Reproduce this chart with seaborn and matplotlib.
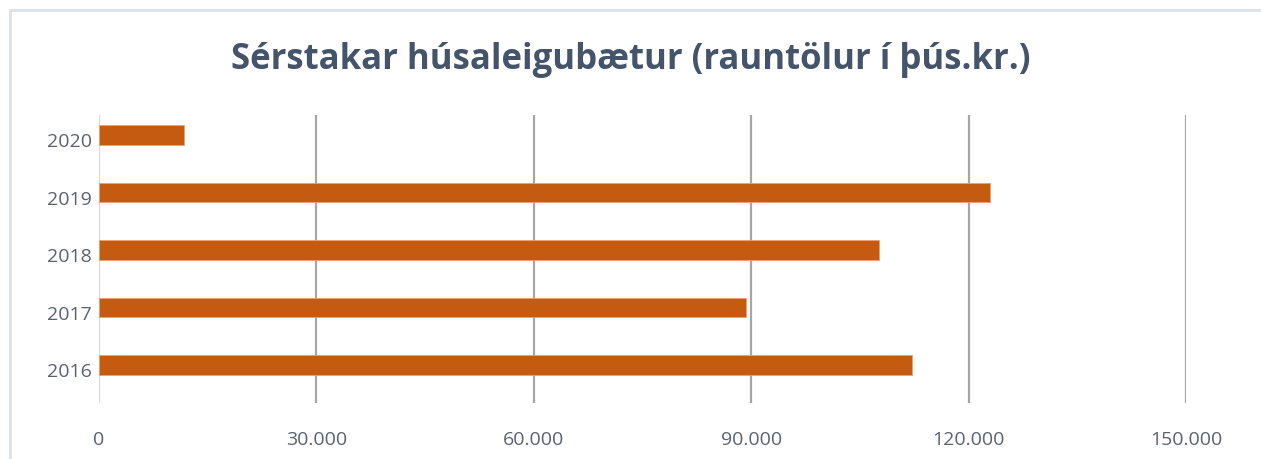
import matplotlib
matplotlib.use("Agg")
import matplotlib.pyplot as plt
import matplotlib.transforms as mtrans
import seaborn as sns
import pandas as pd

# values (thousand ISK)
years = ["2020", "2019", "2018", "2017", "2016"]
values = [11700, 123000, 107600, 89300, 112200]
xticks = [0, 30000, 60000, 90000, 120000, 150000]
xtick_labels = ["0", "30.000", "60.000", "90.000", "120.000", "150.000"]
title = "Sérstakar húsaleigubætur (rauntölur í þús.kr.)"

df = pd.DataFrame({"year": years, "value": values})

sns.set_style("white")
plt.rcParams["font.family"] = ["Open Sans", "DejaVu Sans"]

W, H = 1261, 459
fig = plt.figure(figsize=(W / 100, H / 100), dpi=100)

# outer chart border (right and bottom edges fall outside the crop)
fig.patches.append(plt.Rectangle((10 / W, -0.02), 1.0, 1.0 - 10 / H + 0.02,
                                 transform=fig.transFigure, fill=False,
                                 edgecolor="#dde2ea", linewidth=2))

ax = fig.add_axes([99 / W, (H - 403) / H, (1186 - 99) / W, (403 - 115) / H])

sns.barplot(data=df, x="value", y="year", order=years, orient="h",
            color="#c55a11", width=0.34, edgecolor="#f0a070", linewidth=0.6,
            saturation=1, ax=ax, zorder=3)

ax.set_xlim(0, 150000)
ax.set_ylim(4.66, -0.35)
ax.set_xticks(xticks)
ax.set_xticklabels(xtick_labels)
ax.set_xlabel("")
ax.set_ylabel("")

# gridlines: the zero line is lighter than the rest
for x in xticks[1:]:
    ax.axvline(x, color="#a6a6a6", linewidth=1.6, zorder=1)
ax.axvline(0, color="#d9d9d9", linewidth=1.6, zorder=1)

for s in ax.spines.values():
    s.set_visible(False)
ax.tick_params(axis="both", length=0, labelsize=14, labelcolor="#5a6272")
ax.tick_params(axis="x", pad=20)
ax.tick_params(axis="y", pad=5)

# year labels sit a little below the bar centres
off = mtrans.ScaledTranslation(0, -5 / 100, fig.dpi_scale_trans)
for lbl in ax.get_yticklabels():
    lbl.set_transform(lbl.get_transform() + off)

fig.text(0.5, (H - 60) / H, title, ha="center", va="center",
         fontsize=25, fontweight="bold", color="#44546a")

fig.savefig("out.png", dpi=100)
